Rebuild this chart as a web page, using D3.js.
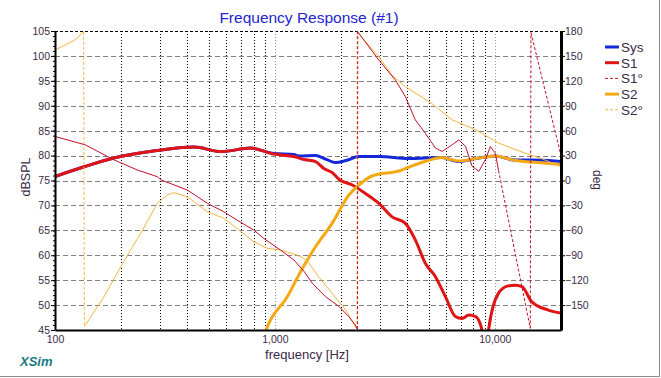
<!DOCTYPE html>
<html>
<head>
<meta charset="utf-8">
<script src="https://cdn.jsdelivr.net/npm/d3@7"></script>
<style>
  body { margin: 0; background: #fff; }
  svg text { font-family: "Liberation Sans", Arial, sans-serif; }
</style>
</head>
<body>
<div id="chart"></div>
<script>
// data: [frequency Hz, value]
const sysData = [
  [100, 75.8], [137, 77.8], [185, 79.5], [280, 80.9], [430, 81.7], [570, 80.8],
  [775, 81.5], [990, 80.4], [1220, 80.2], [1290, 79.9], [1530, 80.0], [1700, 79.3],
  [1890, 78.6], [2100, 79.0], [2410, 79.8], [2970, 79.8], [4050, 79.4], [5750, 79.6],
  [6870, 78.8], [8200, 79.4], [10050, 79.9], [12400, 79.1], [14700, 79.1], [20000, 78.8]
];
const s1Data = [
  [100, 75.8], [137, 77.8], [185, 79.5], [280, 80.9], [430, 81.7], [570, 80.8],
  [775, 81.5], [990, 80.3], [1220, 79.8], [1360, 79.2], [1530, 78.8], [1670, 77.4],
  [1820, 76.6], [1960, 75.2], [2250, 74.1], [2580, 72.4], [2970, 70.4], [3410, 67.7],
  [3920, 66.4], [4350, 63.1], [4830, 58.4], [5370, 55.7], [5960, 51.7], [6620, 47.7],
  [7100, 47.3], [7630, 48.0], [8180, 47.7], [8700, 45.4], [8900, 42], [9200, 42],
  [9410, 45.6], [10400, 52.4], [11400, 53.8], [12400, 54.0], [13300, 53.7],
  [14700, 50.7], [17500, 49.0], [20000, 48.4]
];
const s1Phase = [
  [100, 53], [137, 43], [185, 25], [237, 12.6], [292, 4.6], [302, 1], [399, -11.4],
  [493, -27.4], [585, -37.6], [672, -47.6], [801, -59.6], [888, -69.6], [1060, -83.7],
  [1220, -95.7], [1360, -109.8], [1480, -123.8], [1700, -139.9], [1960, -151.9],
  [2170, -164], [2320, -174], [2375, -179], [2380, 179], [2970, 145], [3530, 121],
  [3920, 101], [4350, 73], [4830, 57], [5370, 39], [5760, 35], [6400, 43], [6870, 49],
  [7360, 41], [7890, 17], [8460, 11], [9060, 25], [9550, 41], [10050, 33], [10400, 12],
  [14500, -178], [14600, 178], [20000, 30]
];
const s2Data = [
  [880, 43], [923, 45.6], [1140, 51.7], [1290, 56.2], [1530, 61.7], [1820, 66.4],
  [2170, 72.1], [2370, 73.8], [2760, 75.9], [3770, 77.1], [3920, 77.4], [4800, 78.8],
  [5750, 79.6], [6870, 78.9], [8200, 79.4], [10050, 79.9], [12400, 79.0],
  [14700, 78.7], [20000, 78.2]
];
const s2Phase = [
  [100, 157], [123, 169], [135, 179], [136, -176], [167, -140], [199, -104],
  [220, -84], [245, -64], [292, -27.4], [324, -17.4], [347, -14.7], [399, -19.5],
  [493, -37.6], [585, -45.5], [672, -57.6], [801, -73.7], [923, -81.6], [1060, -83.7],
  [1260, -89.7], [1350, -93.7], [1430, -99.7], [1580, -115.8], [1820, -135.8],
  [2100, -155.9], [2320, -176], [2362, -179], [2364, 179], [2970, 149], [3400, 127],
  [3920, 113], [5150, 93], [6400, 73], [8180, 61], [10400, 45], [13800, 32.7],
  [16200, 26.7], [20000, 16.6]
];
const xTickValues = [100, 1000, 10000];
const dbTicks = d3.range(45, 106, 5);
const degTicks = d3.range(-150, 181, 30);

const series = [
  { name: "Sys", data: sysData, axis: "db", color: "#1428d8", width: 3, dashed: false },
  { name: "S1", data: s1Data, axis: "db", color: "#e01414", width: 3, dashed: false },
  { name: "S1°", data: s1Phase, axis: "deg", color: "#c0102a", width: 1, dashed: true },
  { name: "S2", data: s2Data, axis: "db", color: "#f4a814", width: 3, dashed: false },
  { name: "S2°", data: s2Phase, axis: "deg", color: "#f2b640", width: 1, dashed: true }
];
// drawing order: magnitudes first, then S2 phase, S1 phase on top
const drawOrder = ["Sys", "S1", "S2", "S2°", "S1°"];

const W = 661, H = 378;
const plot = { left: 55, right: 561, top: 31, bottom: 330 };

const svg = d3.select("#chart").append("svg")
  .attr("width", W).attr("height", H);

const x = d3.scaleLog().domain([100, 20000]).range([plot.left, plot.right]);
const yDb = d3.scaleLinear().domain([45, 105]).range([plot.bottom, plot.top]);
const yDeg = d3.scaleLinear().domain([-180, 180]).range([plot.bottom, plot.top]);

// window frame (right and bottom edges)
svg.append("line").attr("x1", W - 1.5).attr("x2", W - 1.5).attr("y1", 0).attr("y2", H - 1.5)
  .attr("stroke", "#8a8a8a").attr("stroke-width", 1);
svg.append("line").attr("x1", 0).attr("x2", W - 1.5).attr("y1", H - 1.5).attr("y2", H - 1.5)
  .attr("stroke", "#8a8a8a").attr("stroke-width", 1);

// horizontal grid
svg.append("g").selectAll("line")
  .data(dbTicks.filter(d => d > 45 && d < 105))
  .join("line")
    .attr("x1", plot.left).attr("x2", plot.right)
    .attr("y1", d => Math.round(yDb(d)) + 0.5).attr("y2", d => Math.round(yDb(d)) + 0.5)
    .attr("stroke", "#808080").attr("stroke-dasharray", "5,3");
// top border is dashed black
svg.append("line")
  .attr("x1", plot.left).attr("x2", plot.right)
  .attr("y1", plot.top + 0.5).attr("y2", plot.top + 0.5)
  .attr("stroke", "#000").attr("stroke-dasharray", "3,2");

// vertical grid
const vGrid = [];
[100, 1000, 10000].forEach(dec => {
  for (let k = 1; k <= 9; k++) {
    const f = dec * k;
    if (f > 100 && f < 20000) vGrid.push(f);
  }
});
svg.append("g").selectAll("line")
  .data(vGrid)
  .join("line")
    .attr("x1", d => Math.round(x(d)) + 0.5).attr("x2", d => Math.round(x(d)) + 0.5)
    .attr("y1", plot.top).attr("y2", plot.bottom)
    .attr("stroke", d => (d === 1000 || d === 10000) ? "#9a9a9a" : "#000")
    .attr("stroke-dasharray", "1,2");

// curves, clipped to the plot area
svg.append("clipPath").attr("id", "clip")
  .append("rect")
    .attr("x", plot.left).attr("y", plot.top)
    .attr("width", plot.right - plot.left).attr("height", plot.bottom - plot.top);

const curves = svg.append("g").attr("clip-path", "url(#clip)");

drawOrder.map(n => series.find(s => s.name === n)).forEach(s => {
  const yS = s.axis === "db" ? yDb : yDeg;
  if (!s.dashed) {
    curves.append("path")
      .datum(s.data)
      .attr("fill", "none")
      .attr("stroke", s.color)
      .attr("stroke-width", s.width)
      .attr("stroke-linejoin", "round")
      .attr("d", d3.line().x(d => x(d[0])).y(d => yS(d[1])).curve(d3.curveMonotoneX));
  } else {
    // phase: long segments come out dashed, short ones look solid
    const segs = d3.pairs(s.data);
    curves.append("g").selectAll("line")
      .data(segs)
      .join("line")
        .attr("x1", d => x(d[0][0])).attr("y1", d => yS(d[0][1]))
        .attr("x2", d => x(d[1][0])).attr("y2", d => yS(d[1][1]))
        .attr("stroke", s.color)
        .attr("stroke-width", s.width)
        .attr("stroke-dasharray", d => {
          const len = Math.hypot(x(d[1][0]) - x(d[0][0]), yS(d[1][1]) - yS(d[0][1]));
          return len > 45 ? "3,2" : null;
        });
  }
});

// left axis
const textColor = "#3a2a48";
const leftAxis = svg.append("g")
  .attr("transform", `translate(${plot.left},0)`)
  .call(d3.axisLeft(yDb).tickValues(d3.range(45, 106, 1)).tickSize(2).tickFormat(""))
  .call(g => g.select(".domain").remove());
leftAxis.selectAll("line").attr("stroke", "#000");
svg.append("g")
  .attr("transform", `translate(${plot.left},0)`)
  .call(d3.axisLeft(yDb).tickValues(dbTicks).tickSize(4).tickPadding(1).tickSizeOuter(0))
  .call(g => g.select(".domain").attr("stroke-width", 2))
  .call(g => g.selectAll("text").attr("font-size", "10.5px").attr("fill", textColor)
    .attr("font-family", "Liberation Sans, Arial, sans-serif"));

// right axis
svg.append("g")
  .attr("transform", `translate(${plot.right},0)`)
  .call(d3.axisRight(yDeg).tickValues(degTicks).tickSize(4).tickPadding(0).tickSizeOuter(0))
  .call(g => g.select(".domain").attr("stroke-width", 3))
  .call(g => g.selectAll("text").attr("font-size", "10.5px").attr("fill", textColor)
    .attr("font-family", "Liberation Sans, Arial, sans-serif"));

// bottom axis
svg.append("g")
  .attr("transform", `translate(0,${plot.bottom})`)
  .call(d3.axisBottom(x).tickValues(xTickValues).tickSize(0).tickPadding(6)
    .tickFormat(d3.format(",")).tickSizeOuter(0))
  .call(g => g.select(".domain").attr("stroke-width", 2))
  .call(g => g.selectAll("text").attr("font-size", "10.5px").attr("fill", textColor)
    .attr("font-family", "Liberation Sans, Arial, sans-serif"));

// titles
svg.append("text")
  .attr("x", 309).attr("y", 23)
  .attr("text-anchor", "middle")
  .attr("font-size", "15.5px")
  .attr("fill", "#2424d0")
  .text("Frequency Response (#1)");

svg.append("text")
  .attr("transform", "translate(30,177) rotate(-90)")
  .attr("text-anchor", "middle")
  .attr("font-size", "12.5px")
  .attr("fill", textColor)
  .text("dBSPL");

svg.append("text")
  .attr("transform", "translate(593,180) rotate(90)")
  .attr("text-anchor", "middle")
  .attr("font-size", "12px")
  .attr("fill", textColor)
  .text("deg");

svg.append("text")
  .attr("x", 307).attr("y", 359)
  .attr("text-anchor", "middle")
  .attr("font-size", "13px")
  .attr("fill", textColor)
  .text("frequency [Hz]");

svg.append("text")
  .attr("x", 20).attr("y", 366)
  .attr("font-size", "13px")
  .attr("font-weight", "bold")
  .attr("font-style", "italic")
  .attr("fill", "#1a7a80")
  .text("XSim");

// legend
const legend = svg.append("g");
series.forEach((s, i) => {
  const ly = 47 + i * 15.7;
  legend.append("line")
    .attr("x1", 605).attr("x2", 619)
    .attr("y1", ly).attr("y2", ly)
    .attr("stroke", s.color)
    .attr("stroke-width", s.dashed ? 1 : 3)
    .attr("stroke-dasharray", s.dashed ? "3,2" : null);
  legend.append("text")
    .attr("x", 621).attr("y", ly + 5)
    .attr("font-size", "13.5px")
    .attr("fill", textColor)
    .text(s.name);
});
</script>
</body>
</html>
